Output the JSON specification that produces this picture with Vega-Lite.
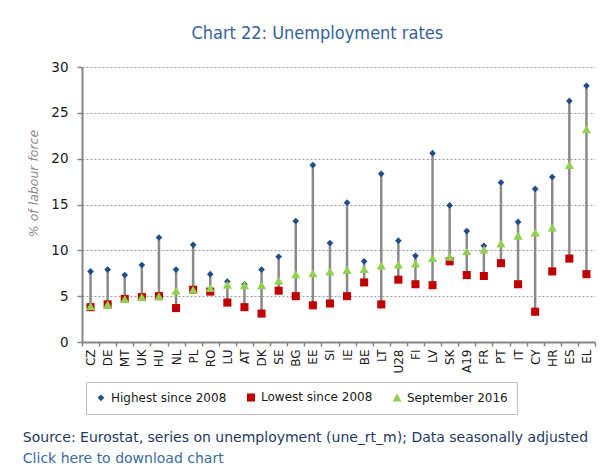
{
  "$schema": "https://vega.github.io/schema/vega-lite/v6.json",
  "background": "white",
  "padding": {"left": 22, "top": 25, "right": 5, "bottom": 0},
  "title": {
    "text": "Chart 22: Unemployment rates",
    "anchor": "middle",
    "font": "DejaVu Sans Condensed",
    "fontSize": 18,
    "fontWeight": "normal",
    "color": "#33639b",
    "offset": 17,
    "dx": 8
  },
  "datasets": {
    "rates": [
      {"country": "CZ", "Highest since 2008": 7.7, "Lowest since 2008": 3.8, "September 2016": 3.9},
      {"country": "DE", "Highest since 2008": 7.9, "Lowest since 2008": 4.1, "September 2016": 4.1},
      {"country": "MT", "Highest since 2008": 7.3, "Lowest since 2008": 4.7, "September 2016": 4.7},
      {"country": "UK", "Highest since 2008": 8.4, "Lowest since 2008": 4.9, "September 2016": 4.9},
      {"country": "HU", "Highest since 2008": 11.4, "Lowest since 2008": 5.0, "September 2016": 5.0},
      {"country": "NL", "Highest since 2008": 7.9, "Lowest since 2008": 3.7, "September 2016": 5.6},
      {"country": "PL", "Highest since 2008": 10.6, "Lowest since 2008": 5.7, "September 2016": 5.7},
      {"country": "RO", "Highest since 2008": 7.4, "Lowest since 2008": 5.5, "September 2016": 5.9},
      {"country": "LU", "Highest since 2008": 6.6, "Lowest since 2008": 4.3, "September 2016": 6.25},
      {"country": "AT", "Highest since 2008": 6.3, "Lowest since 2008": 3.8, "September 2016": 6.2},
      {"country": "DK", "Highest since 2008": 7.9, "Lowest since 2008": 3.1, "September 2016": 6.2},
      {"country": "SE", "Highest since 2008": 9.3, "Lowest since 2008": 5.6, "September 2016": 6.7},
      {"country": "BG", "Highest since 2008": 13.2, "Lowest since 2008": 5.0, "September 2016": 7.4},
      {"country": "EE", "Highest since 2008": 19.3, "Lowest since 2008": 4.0, "September 2016": 7.5},
      {"country": "SI", "Highest since 2008": 10.8, "Lowest since 2008": 4.2, "September 2016": 7.7},
      {"country": "IE", "Highest since 2008": 15.2, "Lowest since 2008": 5.0, "September 2016": 7.85},
      {"country": "BE", "Highest since 2008": 8.8, "Lowest since 2008": 6.5, "September 2016": 7.95},
      {"country": "LT", "Highest since 2008": 18.35, "Lowest since 2008": 4.1, "September 2016": 8.35},
      {"country": "U28", "Highest since 2008": 11.05, "Lowest since 2008": 6.8, "September 2016": 8.45},
      {"country": "FI", "Highest since 2008": 9.4, "Lowest since 2008": 6.3, "September 2016": 8.55},
      {"country": "LV", "Highest since 2008": 20.6, "Lowest since 2008": 6.2, "September 2016": 9.15},
      {"country": "SK", "Highest since 2008": 14.9, "Lowest since 2008": 8.8, "September 2016": 9.3},
      {"country": "A19", "Highest since 2008": 12.1, "Lowest since 2008": 7.3, "September 2016": 9.9},
      {"country": "FR", "Highest since 2008": 10.5, "Lowest since 2008": 7.2, "September 2016": 10.1},
      {"country": "PT", "Highest since 2008": 17.4, "Lowest since 2008": 8.6, "September 2016": 10.75},
      {"country": "IT", "Highest since 2008": 13.1, "Lowest since 2008": 6.3, "September 2016": 11.6},
      {"country": "CY", "Highest since 2008": 16.7, "Lowest since 2008": 3.3, "September 2016": 11.95},
      {"country": "HR", "Highest since 2008": 18.0, "Lowest since 2008": 7.7, "September 2016": 12.5},
      {"country": "ES", "Highest since 2008": 26.3, "Lowest since 2008": 9.1, "September 2016": 19.3},
      {"country": "EL", "Highest since 2008": 27.95, "Lowest since 2008": 7.4, "September 2016": 23.2}
    ]
  },
  "vconcat": [
    {
      "width": 513,
      "height": 275,
      "data": {"name": "rates"},
      "title": {
        "text": "Source: Eurostat, series on unemployment (une_rt_m); Data seasonally adjusted",
        "subtitle": "Click here to download chart",
        "orient": "bottom",
        "anchor": "start",
        "frame": "bounds",
        "dx": -5,
        "offset": 58,
        "font": "DejaVu Sans",
        "fontSize": 14,
        "fontWeight": "normal",
        "color": "#1f3864",
        "subtitleFont": "DejaVu Sans",
        "subtitleFontSize": 14,
        "subtitleColor": "#3a6aa0",
        "subtitlePadding": 7
      },
      "encoding": {
        "x": {
          "field": "country",
          "type": "nominal",
          "sort": null,
          "scale": {"paddingInner": 0, "paddingOuter": 0},
          "axis": {
            "title": null,
            "labelAngle": -90,
            "labelAlign": "right",
            "labelBaseline": "middle",
            "labelFontSize": 12,
            "labelPadding": 3,
            "tickBand": "extent",
            "tickSize": 4,
            "grid": false
          }
        }
      },
      "layer": [
        {
          "mark": {"type": "rule", "color": "#8a8a8a", "strokeWidth": 2.5},
          "encoding": {
            "y": {
              "field": "Lowest since 2008",
              "type": "quantitative",
              "scale": {"domain": [0, 30], "nice": false},
              "axis": {
                "values": [0, 5, 10, 15, 20, 25, 30],
                "title": "% of labour force",
                "titleFontStyle": "italic",
                "titleFontWeight": "normal",
                "titleColor": "#8c8c8c",
                "titleFontSize": 12.5,
                "titlePadding": 10,
                "titleY": 116,
                "labelFontSize": 13.5,
                "labelPadding": 9,
                "tickSize": 5,
                "grid": true,
                "gridColor": "#9a9a9a",
                "gridDash": [2, 2],
                "gridWidth": 1
              }
            },
            "y2": {"field": "Highest since 2008"}
          }
        },
        {
          "transform": [
            {"fold": ["Highest since 2008", "Lowest since 2008", "September 2016"], "as": ["series", "value"]}
          ],
          "mark": {"type": "point", "filled": true, "opacity": 1},
          "encoding": {
            "y": {
              "field": "value",
              "type": "quantitative",
              "scale": {"domain": [0, 30], "nice": false},
              "axis": {
                "values": [0, 5, 10, 15, 20, 25, 30],
                "title": "% of labour force",
                "titleFontStyle": "italic",
                "titleFontWeight": "normal",
                "titleColor": "#8c8c8c",
                "titleFontSize": 12.5,
                "titlePadding": 10,
                "titleY": 116,
                "labelFontSize": 13.5,
                "labelPadding": 9,
                "tickSize": 5,
                "grid": true,
                "gridColor": "#9a9a9a",
                "gridDash": [2, 2],
                "gridWidth": 1
              }
            },
            "color": {
              "field": "series",
              "type": "nominal",
              "scale": {
                "domain": ["Highest since 2008", "Lowest since 2008", "September 2016"],
                "range": ["#1f4e8c", "#c00000", "#92d050"]
              },
              "legend": {
                "title": null,
                "orient": "none",
                "legendX": 4,
                "legendY": 315,
                "direction": "horizontal",
                "strokeColor": "#bfbfbf",
                "padding": 9,
                "columnPadding": 16,
                "labelFontSize": 12,
                "labelColor": "#1a1a1a",
                "labelFont": "DejaVu Sans",
                "symbolOpacity": 1
              }
            },
            "shape": {
              "field": "series",
              "type": "nominal",
              "scale": {
                "domain": ["Highest since 2008", "Lowest since 2008", "September 2016"],
                "range": ["diamond", "square", "triangle-up"]
              }
            },
            "size": {
              "field": "series",
              "type": "nominal",
              "scale": {
                "domain": ["Highest since 2008", "Lowest since 2008", "September 2016"],
                "range": [45, 85, 85]
              }
            }
          }
        }
      ]
    }
  ],
  "config": {
    "view": {"stroke": null},
    "axis": {
      "domainColor": "#868686",
      "domainWidth": 2,
      "tickColor": "#868686",
      "tickWidth": 1.5,
      "labelColor": "#1a1a1a",
      "labelFont": "DejaVu Sans",
      "titleFont": "DejaVu Sans"
    },
    "axisY": {"grid": true}
  }
}
